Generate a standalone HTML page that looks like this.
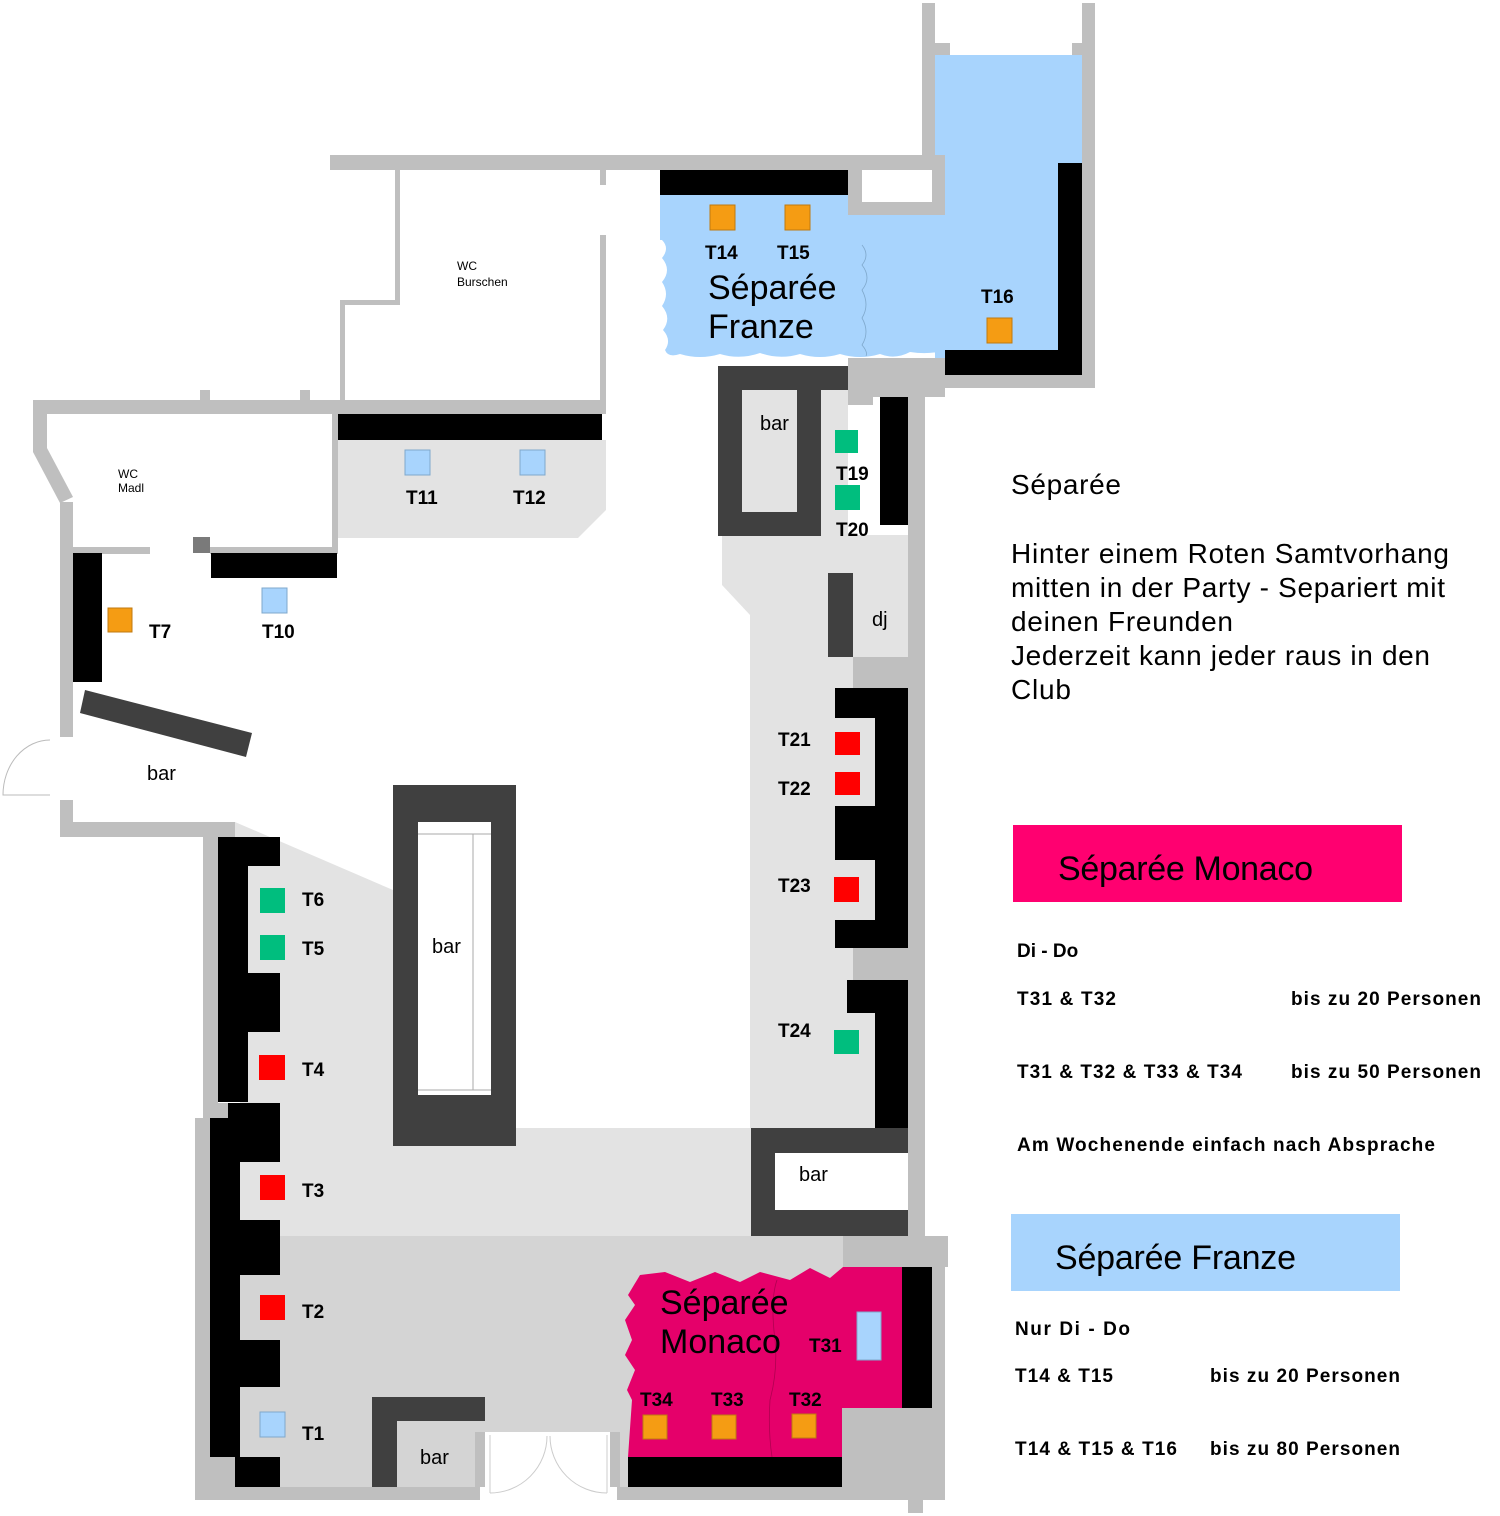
<!DOCTYPE html>
<html><head><meta charset="utf-8"><style>
html,body{margin:0;padding:0;background:#fff;}
svg{display:block}
text{font-family:"Liberation Sans",Arial,sans-serif;}
</style></head><body>
<svg width="1500" height="1516" viewBox="0 0 1500 1516" xmlns="http://www.w3.org/2000/svg">
<!-- floors -->
<polygon points="722,535 908,535 908,1128 750,1128 750,615 722,585" fill="#e3e3e3"/>
<polygon points="338,440 606,440 606,510 578,538 338,538" fill="#e3e3e3"/>
<polygon points="235,822 393,890 393,1128 240,1128 240,837 235,837" fill="#e3e3e3"/>
<rect x="393" y="1128" width="358" height="108" fill="#e3e3e3"/>
<rect x="240" y="1128" width="153" height="108" fill="#e3e3e3"/>
<rect x="240" y="1236" width="603" height="251" fill="#d4d4d4"/>
<rect x="718" y="366" width="130" height="170" fill="#e3e3e3"/>
<!-- blue Franze -->
<rect x="935" y="55" width="147" height="305" fill="#a8d4fd"/>
<path d="M660,195 L935,195 L935,358 L945,358 L945,350 Q930,355 910,352 Q895,360 880,354 Q860,360 840,354 Q820,360 800,354 Q780,360 760,353 Q740,360 720,354 Q700,360 680,354 Q668,358 665,350 Q672,340 663,330 Q672,318 662,306 Q670,294 662,282 Q672,270 662,258 Q670,248 662,240 L660,240 Z" fill="#a8d4fd"/>
<path d="M862,245 Q870,255 862,265 Q872,278 862,290 Q870,305 862,318 Q870,332 862,345 Q868,352 866,356" fill="none" stroke="#7fa8cc" stroke-width="0.8"/>
<!-- top walls -->
<rect x="330" y="155" width="595" height="15" fill="#bfbfbf"/>
<rect x="922" y="3" width="13" height="170" fill="#bfbfbf"/>
<rect x="1082" y="3" width="13" height="385" fill="#bfbfbf"/>
<rect x="935" y="43" width="15" height="12" fill="#bfbfbf"/>
<rect x="1072" y="43" width="10" height="12" fill="#bfbfbf"/>
<rect x="848" y="155" width="97" height="60" fill="#bfbfbf"/>
<rect x="862" y="170" width="70" height="32" fill="#fff"/>
<rect x="660" y="170" width="188" height="25" fill="#000"/>
<rect x="1058" y="163" width="24" height="190" fill="#000"/>
<rect x="945" y="350" width="137" height="25" fill="#000"/>
<rect x="945" y="375" width="150" height="13" fill="#bfbfbf"/>
<rect x="848" y="358" width="97" height="39" fill="#bfbfbf"/>
<rect x="848" y="397" width="25" height="8" fill="#bfbfbf"/>
<!-- WC Burschen -->
<rect x="395" y="170" width="5" height="135" fill="#bfbfbf"/>
<rect x="340" y="300" width="60" height="5" fill="#bfbfbf"/>
<rect x="340" y="300" width="5" height="100" fill="#bfbfbf"/>
<rect x="600" y="170" width="6" height="15" fill="#bfbfbf"/>
<rect x="600" y="235" width="6" height="165" fill="#bfbfbf"/>
<text x="457" y="270" font-size="12">WC</text>
<text x="457" y="286" font-size="12">Burschen</text>
<!-- main horizontal wall -->
<rect x="33" y="400" width="573" height="14" fill="#bfbfbf"/>
<rect x="200" y="390" width="10" height="10" fill="#bfbfbf"/>
<rect x="300" y="390" width="10" height="10" fill="#bfbfbf"/>
<rect x="338" y="414" width="264" height="26" fill="#000"/>
<!-- WC Madl -->
<rect x="33" y="414" width="14" height="38" fill="#bfbfbf"/>
<polygon points="33,452 47,448 73,497 60,503" fill="#bfbfbf"/>
<rect x="60" y="502" width="13" height="235" fill="#bfbfbf"/>
<rect x="73" y="547" width="77" height="7" fill="#bfbfbf"/>
<rect x="193" y="537" width="17" height="16" fill="#7a7a7a"/>
<rect x="210" y="547" width="128" height="7" fill="#bfbfbf"/>
<rect x="332" y="414" width="6" height="140" fill="#bfbfbf"/>
<text x="118" y="478" font-size="12">WC</text>
<text x="118" y="492" font-size="12">Madl</text>
<rect x="211" y="553" width="126" height="25" fill="#000"/>
<rect x="73" y="553" width="29" height="129" fill="#000"/>
<rect x="108" y="608" width="24" height="24" fill="#f59c13" stroke="#c07a10" stroke-width="1"/>
<rect x="262" y="588" width="25" height="25" fill="#a8d4fd" stroke="#7fa8cc" stroke-width="1"/>
<polygon points="85,690 252,733 246,757 80,713" fill="#404040"/>
<!-- door left -->
<path d="M50,740 A47,55 0 0 0 3,795 L50,795" fill="none" stroke="#bbb" stroke-width="1"/>
<rect x="60" y="800" width="13" height="37" fill="#bfbfbf"/>
<rect x="60" y="822" width="175" height="15" fill="#bfbfbf"/>
<!-- left block -->
<rect x="203" y="837" width="15" height="268" fill="#bfbfbf"/>
<rect x="218" y="837" width="30" height="265" fill="#000"/>
<rect x="248" y="837" width="32" height="29" fill="#000"/>
<rect x="248" y="973" width="32" height="59" fill="#000"/>
<!-- center bar -->
<rect x="393" y="785" width="123" height="361" fill="#404040"/>
<rect x="418" y="822" width="73" height="273" fill="#fff"/>
<line x1="418" y1="834" x2="491" y2="834" stroke="#aaa"/>
<line x1="473" y1="834" x2="473" y2="1090" stroke="#aaa"/>
<line x1="418" y1="1090" x2="491" y2="1090" stroke="#aaa"/>
<!-- right column -->
<rect x="908" y="397" width="17" height="843" fill="#bfbfbf"/>
<rect x="718" y="366" width="130" height="24" fill="#404040"/>
<rect x="718" y="366" width="24" height="170" fill="#404040"/>
<rect x="797" y="366" width="24" height="170" fill="#404040"/>
<rect x="718" y="512" width="103" height="24" fill="#404040"/>
<rect x="880" y="397" width="28" height="128" fill="#000"/>
<rect x="828" y="573" width="25" height="84" fill="#404040"/>
<rect x="853" y="657" width="55" height="31" fill="#bfbfbf"/>
<rect x="875" y="688" width="33" height="260" fill="#000"/>
<rect x="835" y="688" width="40" height="30" fill="#000"/>
<rect x="835" y="806" width="40" height="54" fill="#000"/>
<rect x="835" y="920" width="40" height="28" fill="#000"/>
<rect x="853" y="948" width="55" height="32" fill="#bfbfbf"/>
<rect x="847" y="980" width="28" height="33" fill="#000"/>
<rect x="875" y="980" width="33" height="148" fill="#000"/>
<rect x="751" y="1128" width="157" height="108" fill="#404040"/>
<rect x="775" y="1153" width="133" height="57" fill="#fff"/>
<!-- lower left -->
<rect x="195" y="1118" width="15" height="382" fill="#bfbfbf"/>
<rect x="203" y="1103" width="25" height="15" fill="#bfbfbf"/>
<rect x="210" y="1118" width="30" height="339" fill="#000"/>
<rect x="228" y="1103" width="52" height="59" fill="#000"/>
<rect x="228" y="1220" width="52" height="55" fill="#000"/>
<rect x="228" y="1340" width="52" height="47" fill="#000"/>
<rect x="205" y="1457" width="30" height="30" fill="#bfbfbf"/>
<rect x="235" y="1457" width="45" height="30" fill="#000"/>
<rect x="372" y="1397" width="25" height="91" fill="#404040"/>
<rect x="397" y="1397" width="88" height="24" fill="#404040"/>
<rect x="480" y="1432" width="137" height="68" fill="#fff"/>
<rect x="475" y="1432" width="10" height="55" fill="#bfbfbf"/>
<rect x="610" y="1432" width="10" height="55" fill="#bfbfbf"/>
<path d="M490,1435 L490,1493 M607,1435 L607,1493 M490,1493 A57,57 0 0 0 547,1436 M607,1493 A57,57 0 0 1 550,1436" fill="none" stroke="#ccc"/>
<rect x="195" y="1487" width="285" height="13" fill="#bfbfbf"/>
<rect x="617" y="1487" width="328" height="13" fill="#bfbfbf"/>
<!-- Monaco -->
<polygon points="640,1275 665,1272 690,1282 715,1272 740,1282 760,1272 790,1280 810,1268 830,1278 843,1267 902,1267 902,1457 628,1457 632,1400 627,1390 635,1370 625,1355 632,1340 625,1320 635,1305 628,1295" fill="#e5006a"/>
<path d="M777,1280 Q770,1300 775,1340 Q778,1370 770,1400 Q768,1430 772,1457" fill="none" stroke="#b00050" stroke-width="0.8"/>
<rect x="902" y="1267" width="30" height="141" fill="#000"/>
<rect x="628" y="1457" width="214" height="30" fill="#000"/>
<rect x="842" y="1408" width="90" height="79" fill="#bfbfbf"/>
<rect x="843" y="1236" width="105" height="31" fill="#bfbfbf"/>
<rect x="932" y="1267" width="13" height="233" fill="#bfbfbf"/>
<rect x="908" y="1495" width="15" height="18" fill="#bfbfbf"/>
<!-- tables -->
<g stroke-width="1">
<rect x="710" y="205" width="25" height="25" fill="#f59c13" stroke="#c07a10"/>
<rect x="785" y="205" width="25" height="25" fill="#f59c13" stroke="#c07a10"/>
<rect x="987" y="318" width="25" height="25" fill="#f59c13" stroke="#c07a10"/>
<rect x="405" y="450" width="25" height="25" fill="#a8d4fd" stroke="#7fa8cc"/>
<rect x="520" y="450" width="25" height="25" fill="#a8d4fd" stroke="#7fa8cc"/>
<rect x="835" y="430" width="23" height="23" fill="#00be7e"/>
<rect x="835" y="485" width="25" height="25" fill="#00be7e"/>
<rect x="835" y="732" width="25" height="23" fill="#ff0000"/>
<rect x="835" y="772" width="25" height="23" fill="#ff0000"/>
<rect x="834" y="877" width="25" height="25" fill="#ff0000"/>
<rect x="834" y="1030" width="25" height="24" fill="#00be7e"/>
<rect x="260" y="888" width="25" height="25" fill="#00be7e"/>
<rect x="260" y="935" width="25" height="25" fill="#00be7e"/>
<rect x="259" y="1055" width="26" height="25" fill="#ff0000"/>
<rect x="260" y="1175" width="25" height="25" fill="#ff0000"/>
<rect x="260" y="1295" width="25" height="25" fill="#ff0000"/>
<rect x="260" y="1412" width="25" height="25" fill="#a8d4fd" stroke="#7fa8cc"/>
<rect x="857" y="1312" width="24" height="48" fill="#a8d4fd" stroke="#7fa8cc"/>
<rect x="643" y="1415" width="24" height="24" fill="#f59c13" stroke="#c07a10"/>
<rect x="712" y="1415" width="24" height="24" fill="#f59c13" stroke="#c07a10"/>
<rect x="792" y="1414" width="24" height="24" fill="#f59c13" stroke="#c07a10"/>
</g>
<!-- labels -->
<g font-weight="bold" font-size="19">
<text x="705" y="259">T14</text><text x="777" y="259">T15</text><text x="981" y="303">T16</text>
<text x="406" y="504">T11</text><text x="513" y="504">T12</text>
<text x="836" y="480">T19</text><text x="836" y="536">T20</text>
<text x="149" y="638">T7</text><text x="262" y="638">T10</text>
<text x="778" y="746">T21</text><text x="778" y="795">T22</text><text x="778" y="892">T23</text><text x="778" y="1037">T24</text>
<text x="302" y="906">T6</text><text x="302" y="955">T5</text><text x="302" y="1076">T4</text>
<text x="302" y="1197">T3</text><text x="302" y="1318">T2</text><text x="302" y="1440">T1</text>
<text x="809" y="1352">T31</text><text x="640" y="1406">T34</text><text x="711" y="1406">T33</text><text x="789" y="1406">T32</text>
</g>
<g font-size="20">
<text x="760" y="430">bar</text><text x="872" y="626">dj</text><text x="147" y="780">bar</text>
<text x="432" y="953">bar</text><text x="799" y="1181">bar</text><text x="420" y="1464">bar</text>
</g>
<text x="708" y="299" font-size="34">Séparée</text>
<text x="708" y="338" font-size="34">Franze</text>
<text x="660" y="1314" font-size="34">Séparée</text>
<text x="660" y="1353" font-size="34">Monaco</text>
<!-- right text -->
<g font-size="28">
<text x="1011" y="494" textLength="110">Séparée</text>
<text x="1011" y="563" textLength="438">Hinter einem Roten Samtvorhang</text>
<text x="1011" y="597" textLength="434">mitten in der Party - Separiert mit</text>
<text x="1011" y="631" textLength="222">deinen Freunden</text>
<text x="1011" y="665" textLength="419">Jederzeit kann jeder raus in den</text>
<text x="1011" y="699" textLength="60">Club</text>
</g>
<rect x="1013" y="825" width="389" height="77" fill="#ff0070"/>
<text x="1058" y="880" font-size="34" textLength="255">Séparée Monaco</text>
<rect x="1011" y="1214" width="389" height="77" fill="#a8d4fd"/>
<text x="1055" y="1269" font-size="34" textLength="241">Séparée Franze</text>
<g font-weight="bold" font-size="19">
<text x="1017" y="957">Di - Do</text>
<text x="1017" y="1005" textLength="99">T31 &amp; T32</text>
<text x="1291" y="1005" textLength="190">bis zu 20 Personen</text>
<text x="1017" y="1078" textLength="225">T31 &amp; T32 &amp; T33 &amp; T34</text>
<text x="1291" y="1078" textLength="190">bis zu 50 Personen</text>
<text x="1017" y="1151" textLength="418">Am Wochenende einfach nach Absprache</text>
<text x="1015" y="1335" textLength="115">Nur  Di - Do</text>
<text x="1015" y="1382" textLength="98">T14 &amp; T15</text>
<text x="1210" y="1382" textLength="190">bis zu 20 Personen</text>
<text x="1015" y="1455" textLength="162">T14 &amp; T15 &amp; T16</text>
<text x="1210" y="1455" textLength="190">bis zu 80 Personen</text>
</g>
</svg>
</body></html>
